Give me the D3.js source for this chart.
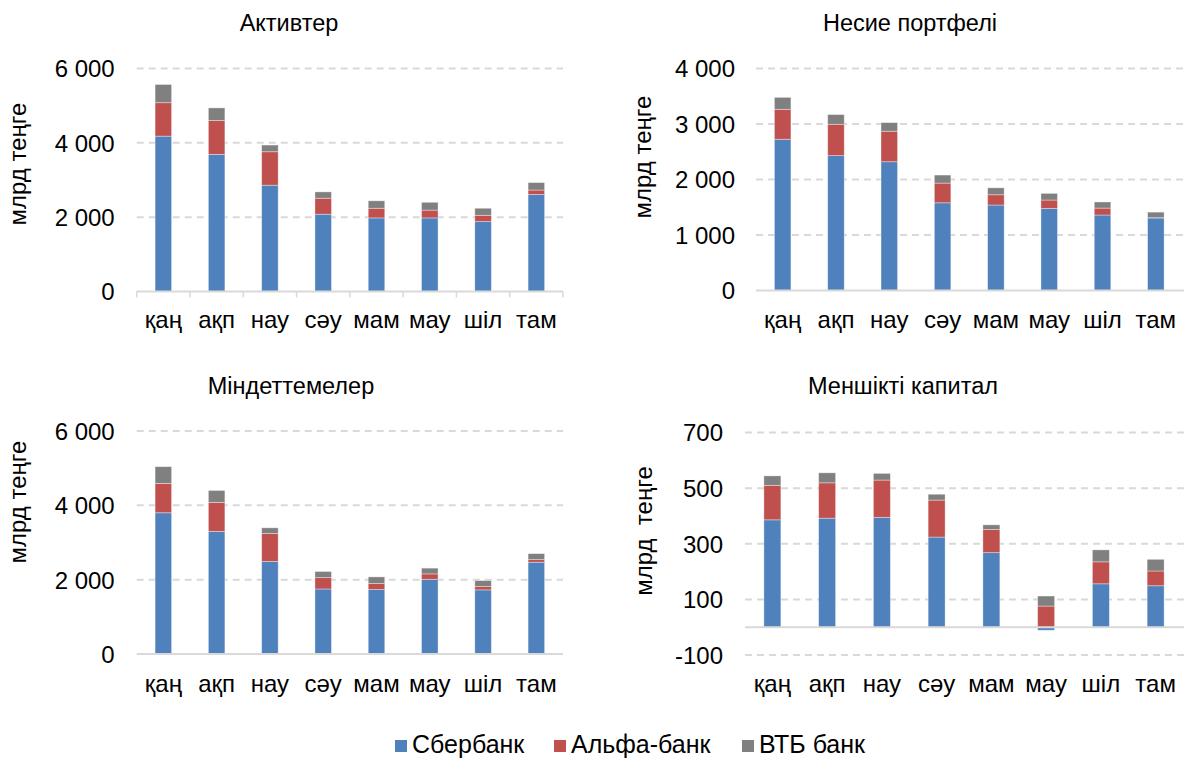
<!DOCTYPE html>
<html>
<head>
<meta charset="utf-8">
<script src="https://cdn.jsdelivr.net/npm/d3@7"></script>
<style>
  html, body { margin: 0; padding: 0; background: #ffffff; }
  svg { display: block; font-family: "Liberation Sans", Arial, sans-serif; }
</style>
</head>
<body>
<svg id="chart" width="1186" height="758"></svg>
<script>
// ---------- data ----------
const months = ["қаң", "ақп", "нау", "сәу", "мам", "мау", "шіл", "там"];
const seriesNames = ["Сбербанк", "Альфа-банк", "ВТБ банк"];
const seriesColors = ["#4f81bd", "#c0504d", "#808080"];

const assetsSber = [4180, 3690, 2860, 2080, 1980, 1980, 1880, 2610];
const assetsAlfa = [900, 910, 900, 430, 260, 210, 170, 120];
const assetsVtb  = [490, 340, 180, 170, 200, 210, 190, 200];

const loansSber = [2725, 2430, 2320, 1580, 1540, 1480, 1360, 1307];
const loansAlfa = [540, 565, 550, 355, 185, 150, 125, 5];
const loansVtb  = [215, 175, 155, 145, 125, 120, 110, 100];

const liabSber = [3800, 3300, 2490, 1750, 1735, 2010, 1725, 2470];
const liabAlfa = [790, 780, 750, 305, 160, 145, 90, 70];
const liabVtb  = [450, 320, 155, 165, 180, 155, 160, 160];

const equitySber = [386, 392, 395, 324, 268, -11, 156, 149];
const equityAlfa = [124, 127, 134, 133, 83, 76, 79, 53];
const equityVtb  = [34, 36, 24, 21, 17, 36, 43, 42];

const ticksAssets = [0, 2000, 4000, 6000];
const ticksLoans  = [0, 1000, 2000, 3000, 4000];
const ticksLiab   = [0, 2000, 4000, 6000];
const ticksEquity = [-100, 100, 300, 500, 700];

const titles = ["Активтер", "Несие портфелі", "Міндеттемелер", "Меншікті капитал"];
const yTitles = ["млрд теңге", "млрд теңге", "млрд теңге", "млрд  теңге"];

// ---------- helpers ----------
const loc = d3.formatLocale({decimal: ",", thousands: "\u00a0", grouping: [3], currency: ["", ""], minus: "-"});
const fmt = loc.format(",d");

const svg = d3.select("#chart");
const FONT = 24;

function panel(cfg) {
  const rows = months.map((m, i) => ({
    month: m,
    s0: cfg.data[0][i], s1: cfg.data[1][i], s2: cfg.data[2][i]
  }));
  const stacked = d3.stack().keys(["s0", "s1", "s2"]).offset(d3.stackOffsetDiverging)(rows);

  const x = d3.scaleBand().domain(months).range([cfg.x0, cfg.x1]).padding(0);
  const y = d3.scaleLinear().domain(cfg.domain).range([cfg.yBottom, cfg.yTop]);
  const barW = x.bandwidth() * 0.31;

  const g = svg.append("g");

  // gridlines (dashed), except zero
  g.selectAll("line.grid").data(cfg.ticks.filter(t => t !== 0)).join("line")
    .attr("class", "grid")
    .attr("x1", cfg.x0).attr("x2", cfg.gridEnd)
    .attr("y1", d => y(d)).attr("y2", d => y(d))
    .attr("stroke", "#d9d9d9").attr("stroke-width", 2)
    .attr("stroke-dasharray", "7,5");

  // y axis labels
  const yAxis = d3.axisLeft(y).tickValues(cfg.ticks).tickSize(0).tickPadding(cfg.labelGap).tickFormat(fmt);
  const ya = g.append("g").attr("transform", `translate(${cfg.x0},0)`).call(yAxis);
  ya.select(".domain").remove();
  ya.selectAll("text").attr("font-size", FONT).attr("fill", "#000")
    .attr("font-family", "Liberation Sans, Arial, sans-serif").attr("dy", "0.35em");

  // bars
  g.selectAll("g.series").data(stacked).join("g")
    .attr("fill", (d, i) => seriesColors[i])
    .selectAll("rect").data(d => d).join("rect")
    .attr("x", d => x(d.data.month) + (x.bandwidth() - barW) / 2)
    .attr("width", barW)
    .attr("y", d => y(Math.max(d[0], d[1])))
    .attr("height", d => Math.abs(y(d[0]) - y(d[1])))
    .attr("stroke", "rgba(255,255,255,0.45)").attr("stroke-width", 0.8);

  // zero axis line
  g.append("line")
    .attr("x1", cfg.x0).attr("x2", cfg.gridEnd)
    .attr("y1", y(0)).attr("y2", y(0))
    .attr("stroke", "#d9d9d9").attr("stroke-width", 2);

  if (cfg.xTicks) {
    const bounds = months.map(m => x(m)).concat([cfg.x1]);
    g.selectAll("line.xt").data(bounds).join("line")
      .attr("x1", d => d).attr("x2", d => d)
      .attr("y1", y(0)).attr("y2", y(0) + 6)
      .attr("stroke", "#d9d9d9").attr("stroke-width", 1.5);
  }

  // x labels
  g.selectAll("text.xl").data(months).join("text")
    .attr("x", d => x(d) + x.bandwidth() / 2)
    .attr("y", cfg.xLabelY)
    .attr("text-anchor", "middle")
    .attr("font-size", FONT).attr("fill", "#000")
    .text(d => d);

  // title
  g.append("text")
    .attr("x", cfg.titleX).attr("y", cfg.titleY)
    .attr("text-anchor", "middle").attr("font-size", cfg.titleSize).attr("fill", "#000")
    .text(cfg.title);

  // y title
  g.append("text")
    .attr("transform", `translate(${cfg.yTitleX},${cfg.yTitleY}) rotate(-90)`)
    .attr("text-anchor", "middle").attr("font-size", FONT).attr("fill", "#000")
    .style("white-space", "pre")
    .text(cfg.yTitle);
}

panel({
  data: [assetsSber, assetsAlfa, assetsVtb], ticks: ticksAssets, domain: [0, 6000],
  x0: 136.7, x1: 563, gridEnd: 563, yTop: 68.5, yBottom: 291.5, labelGap: 22,
  xTicks: true, xLabelY: 328, title: titles[0], titleX: 289, titleY: 31, titleSize: 23.5,
  yTitle: yTitles[0], yTitleX: 26, yTitleY: 164
});
panel({
  data: [loansSber, loansAlfa, loansVtb], ticks: ticksLoans, domain: [0, 4000],
  x0: 756, x1: 1182.5, gridEnd: 1184, yTop: 68.5, yBottom: 290.5, labelGap: 21,
  xTicks: false, xLabelY: 328, title: titles[1], titleX: 910, titleY: 31, titleSize: 23.5,
  yTitle: yTitles[1], yTitleX: 651, yTitleY: 157
});
panel({
  data: [liabSber, liabAlfa, liabVtb], ticks: ticksLiab, domain: [0, 6000],
  x0: 136.7, x1: 563, gridEnd: 563, yTop: 431, yBottom: 654, labelGap: 22,
  xTicks: false, xLabelY: 692, title: titles[2], titleX: 291, titleY: 394, titleSize: 23.5,
  yTitle: yTitles[2], yTitleX: 26, yTitleY: 502
});
panel({
  data: [equitySber, equityAlfa, equityVtb], ticks: ticksEquity, domain: [-100, 700],
  x0: 745, x1: 1183, gridEnd: 1184, yTop: 432.5, yBottom: 655, labelGap: 22,
  xTicks: false, xLabelY: 692, title: titles[3], titleX: 903, titleY: 394, titleSize: 23.5,
  yTitle: yTitles[3], yTitleX: 652, yTitleY: 531
});

// legend
const legendX = [395, 554, 742];
const lg = svg.append("g");
seriesNames.forEach((name, i) => {
  lg.append("rect").attr("x", legendX[i]).attr("y", 740).attr("width", 12).attr("height", 12)
    .attr("fill", seriesColors[i]);
  lg.append("text").attr("x", legendX[i] + 17).attr("y", 753)
    .attr("font-size", 25).attr("fill", "#000").text(name);
});
</script>
</body>
</html>
